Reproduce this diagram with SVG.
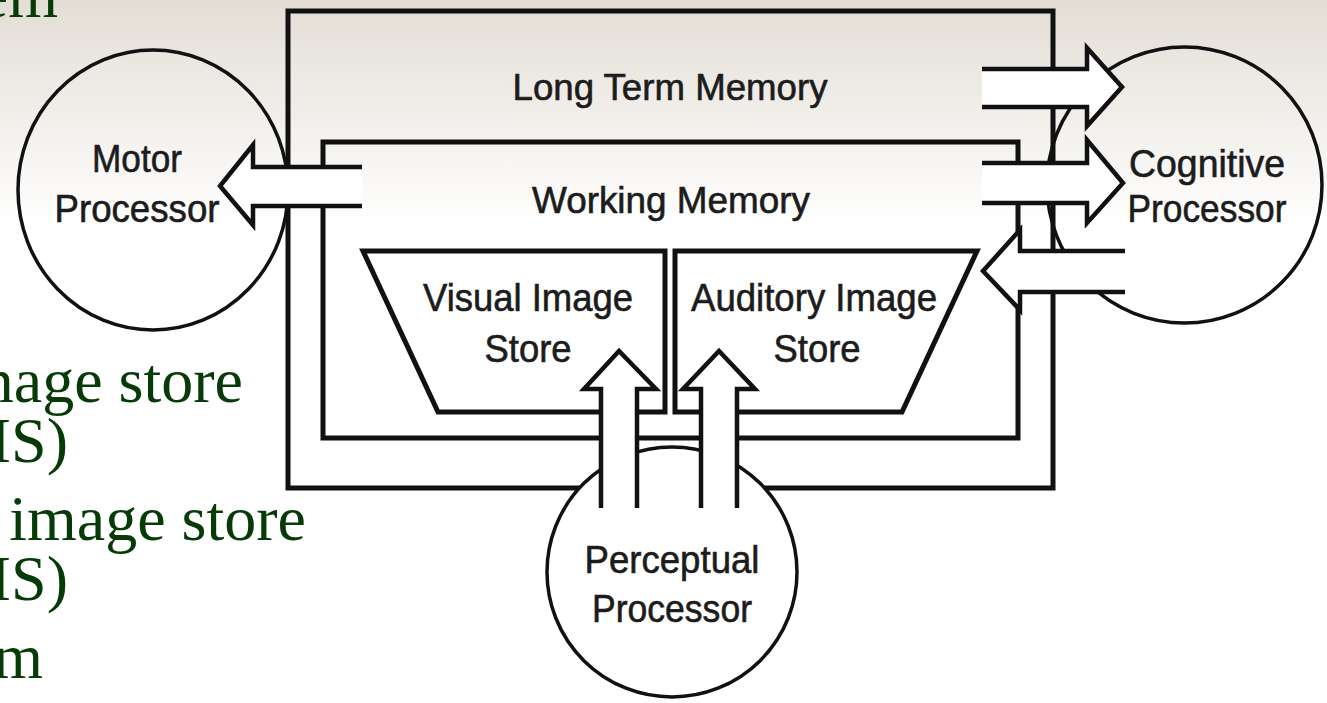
<svg xmlns="http://www.w3.org/2000/svg" width="1327" height="703" viewBox="0 0 1327 703">
  <defs>
    <linearGradient id="bg" x1="0" y1="0" x2="0" y2="703" gradientUnits="userSpaceOnUse">
      <stop offset="0" stop-color="#e3ddd5"/>
      <stop offset="0.32" stop-color="#ffffff"/>
      <stop offset="1" stop-color="#ffffff"/>
    </linearGradient>
    <style>
      .slide { font-family: "Liberation Serif", "Times New Roman", serif; font-size: 64px; fill: #063a06; }
      .box { fill: none; stroke: #111; stroke-width: 5; }
      .trap { fill: none; stroke: #111; stroke-width: 5; stroke-linejoin: miter; }
      .circ { stroke: #111; stroke-width: 3.5; }
      .afill { fill: #ffffff; stroke: none; }
      .aline { fill: none; stroke: #111; stroke-width: 4.5; stroke-linejoin: miter; }
      .lbl { font-family: "Liberation Sans", Arial, sans-serif; font-size: 38px; fill: #1c1c1c; stroke: #1c1c1c; stroke-width: 0.6; text-anchor: middle; }
      .lbl2 { font-family: "Liberation Sans", Arial, sans-serif; font-size: 36px; fill: #1c1c1c; stroke: #1c1c1c; stroke-width: 0.6; text-anchor: middle; }
    </style>
  </defs>

  <rect x="0" y="0" width="1327" height="703" fill="url(#bg)"/>

  <g id="slide-text">
    <text class="slide" x="58" y="17" text-anchor="end">em</text>
    <text class="slide" x="243" y="402" text-anchor="end">nage store</text>
    <text class="slide" x="68" y="462" text-anchor="end">IS)</text>
    <text class="slide" x="306" y="540" text-anchor="end">image store</text>
    <text class="slide" x="68" y="600" text-anchor="end">IS)</text>
    <text class="slide" x="43" y="678" text-anchor="end">m</text>
  </g>

  <g id="long-term-memory">
    <rect class="box" x="288" y="11" width="765" height="477"/>
    <text class="lbl2" x="670" y="100" textLength="315" lengthAdjust="spacingAndGlyphs">Long Term Memory</text>
  </g>

  <g id="working-memory">
    <rect class="box" x="323" y="142" width="695" height="296"/>
    <text class="lbl2" x="671" y="213" textLength="278" lengthAdjust="spacingAndGlyphs">Working Memory</text>
  </g>

  <g id="visual-image-store">
    <polygon class="trap" points="363,251 665,251 665,412 438,412"/>
    <text class="lbl" x="528" y="311" textLength="210" lengthAdjust="spacingAndGlyphs">Visual Image</text>
    <text class="lbl" x="528" y="362" textLength="87" lengthAdjust="spacingAndGlyphs">Store</text>
  </g>

  <g id="auditory-image-store">
    <polygon class="trap" points="675,251 977,251 902,412 675,412"/>
    <text class="lbl" x="814" y="311" textLength="246" lengthAdjust="spacingAndGlyphs">Auditory Image</text>
    <text class="lbl" x="817" y="362" textLength="87" lengthAdjust="spacingAndGlyphs">Store</text>
  </g>

  <g id="motor-processor">
    <ellipse class="circ" cx="153" cy="190" rx="135" ry="140" fill="none"/>
    <text class="lbl" x="137" y="172" textLength="90" lengthAdjust="spacingAndGlyphs">Motor</text>
    <text class="lbl" x="137" y="222" textLength="165" lengthAdjust="spacingAndGlyphs">Processor</text>
  </g>

  <g id="cognitive-processor">
    <ellipse class="circ" cx="1184.5" cy="185" rx="137.5" ry="138" fill="none"/>
    <text class="lbl" x="1207" y="177" textLength="156" lengthAdjust="spacingAndGlyphs">Cognitive</text>
    <text class="lbl" x="1207" y="222" textLength="159" lengthAdjust="spacingAndGlyphs">Processor</text>
  </g>

  <g id="perceptual-processor">
    <circle class="circ" cx="672" cy="572" r="125" fill="#ffffff"/>
    <text class="lbl" x="672" y="573" textLength="175" lengthAdjust="spacingAndGlyphs">Perceptual</text>
    <text class="lbl" x="672" y="622" textLength="160" lengthAdjust="spacingAndGlyphs">Processor</text>
  </g>

  <g id="connectors">
    <g id="arrow-wm-to-motor">
      <polygon class="afill" points="362,167 253,167 253,145 220,186 253,225 253,206 362,206"/>
      <polyline class="aline" points="362,167 253,167 253,145 220,186 253,225 253,206 362,206"/>
    </g>
    <g id="arrow-ltm-to-cognitive">
      <polygon class="afill" points="982,69 1087,69 1087,48 1122,87 1087,126 1087,107 982,107"/>
      <polyline class="aline" points="982,69 1087,69 1087,48 1122,87 1087,126 1087,107 982,107"/>
    </g>
    <g id="arrow-wm-to-cognitive">
      <polygon class="afill" points="982,163 1087,163 1087,140 1123,183 1087,223 1087,203 982,203"/>
      <polyline class="aline" points="982,163 1087,163 1087,140 1123,183 1087,223 1087,203 982,203"/>
    </g>
    <g id="arrow-cognitive-to-wm">
      <polygon class="afill" points="1125,251 1020,251 1020,230 983,271 1020,310 1020,292 1125,292"/>
      <polyline class="aline" points="1125,251 1020,251 1020,230 983,271 1020,310 1020,292 1125,292"/>
    </g>
    <g id="arrow-perceptual-to-vis">
      <polygon class="afill" points="601,508 601,389 584,389 619,351 656,389 637,389 637,508"/>
      <polyline class="aline" points="601,508 601,389 584,389 619,351 656,389 637,389 637,508"/>
    </g>
    <g id="arrow-perceptual-to-ais">
      <polygon class="afill" points="701,508 701,389 683,389 719,351 755,389 737,389 737,508"/>
      <polyline class="aline" points="701,508 701,389 683,389 719,351 755,389 737,389 737,508"/>
    </g>
  </g>
</svg>
